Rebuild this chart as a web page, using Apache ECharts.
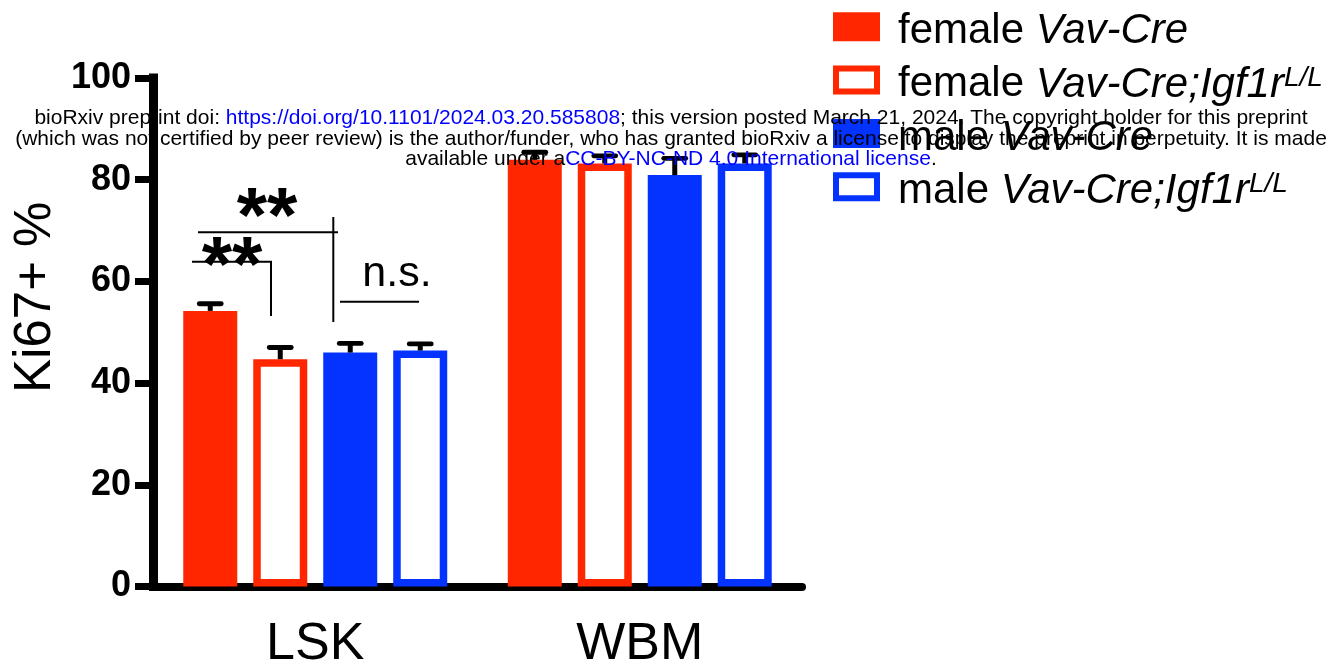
<!DOCTYPE html>
<html><head><meta charset="utf-8">
<script src="https://cdn.jsdelivr.net/npm/echarts@6/dist/echarts.min.js"></script>
<style>html,body{margin:0;padding:0;background:#fff}#c{width:1334px;height:664px}</style>
</head><body><div id="c"></div>
<script>
// ---- data ----
const categories = ['LSK', 'WBM'];
const seriesNames = ['female Vav-Cre', 'female Vav-Cre;Igf1r L/L', 'male Vav-Cre', 'male Vav-Cre;Igf1r L/L'];
const femaleVavCre = [54.2, 83.9];
const femaleVavCreIgf1r = [44.7, 83.2];
const maleVavCre = [46.0, 80.9];
const maleVavCreIgf1r = [46.4, 83.2];
const femaleVavCreErr = [1.4, 1.5];
const femaleVavCreIgf1rErr = [2.3, 1.5];
const maleVavCreErr = [1.8, 3.3];
const maleVavCreIgf1rErr = [1.3, 1.7];
const yTicks = [0, 20, 40, 60, 80, 100];
const yAxisTitle = 'Ki67+ %';

const RED = '#ff2600', BLUE = '#0433ff';
const FONT = '"Liberation Sans", Arial, Helvetica, sans-serif';
const BAR_W = 54, BAR_BORDER = 7.5, BAR_GAP = 16;
const STEP = BAR_W + BAR_GAP;

const means = [femaleVavCre, femaleVavCreIgf1r, maleVavCre, maleVavCreIgf1r];
const errs = [femaleVavCreErr, femaleVavCreIgf1rErr, maleVavCreErr, maleVavCreIgf1rErr];
const colors = [RED, RED, BLUE, BLUE];
const hollow = [false, true, false, true];

const legendText = {};
legendText[seriesNames[0]] = '{sp|}{n|female }{i|Vav-Cre}';
legendText[seriesNames[1]] = '{sp|}{n|female }{i|Vav-Cre;Igf1r}{s|L/L}';
legendText[seriesNames[2]] = '{sp|}{n|male }{i|Vav-Cre}';
legendText[seriesNames[3]] = '{sp|}{n|male }{i|Vav-Cre;Igf1r}{s|L/L}';

const barSeries = seriesNames.map((name, k) => ({
  name: name,
  type: 'bar',
  barWidth: BAR_W,
  barGap: (BAR_GAP / BAR_W * 100).toFixed(1) + '%',
  data: means[k],
  itemStyle: {
    color: hollow[k] ? '#fff' : colors[k],
    borderColor: colors[k],
    borderWidth: BAR_BORDER
  },
  z: 2
}));

const errSeries = seriesNames.map((name, k) => ({
  type: 'custom',
  z: 5,
  data: categories.map((c, i) => [i, means[k][i], errs[k][i]]),
  encode: { x: 0, y: 1 },
  renderItem: function (params, api) {
    const c = api.coord([api.value(0), api.value(1)]);
    const t = api.coord([api.value(0), api.value(1) + api.value(2)]);
    const x = c[0] + (k - 1.5) * STEP;
    return {
      type: 'group',
      children: [
        { type: 'line', shape: { x1: x, y1: c[1], x2: x, y2: t[1] },
          style: { stroke: '#000', lineWidth: 5 } },
        { type: 'line', shape: { x1: x - 11, y1: t[1], x2: x + 11, y2: t[1] },
          style: { stroke: '#000', lineWidth: 4.8, lineCap: 'round' } }
      ]
    };
  }
}));

const LH = 51.6;
const chart = echarts.init(document.getElementById('c'), null, { renderer: 'canvas' });
chart.setOption({
  animation: false,
  backgroundColor: '#fff',
  textStyle: { fontFamily: FONT },
  grid: { left: 153, right: 532, top: 78, bottom: 77.5, containLabel: false, outerBoundsMode: 'none' },
  legend: {
    orient: 'vertical',
    left: 833,
    top: 1,
    padding: 0,
    icon: 'rect',
    itemWidth: 41,
    itemHeight: 23,
    itemGap: 53.3 - LH,
    selectedMode: false,
    data: seriesNames.map((n, k) => ({
      name: n,
      itemStyle: { color: hollow[k] ? '#fff' : colors[k], borderColor: colors[k], borderWidth: 6 }
    })),
    formatter: function (name) { return legendText[name]; },
    textStyle: {
      fontFamily: FONT, fontSize: 42, color: '#000', lineHeight: LH,
      rich: {
        sp: { width: 16, lineHeight: LH },
        n: { fontFamily: FONT, fontSize: 42, color: '#000', lineHeight: 44, verticalAlign: 'bottom' },
        i: { fontFamily: FONT, fontSize: 42, fontStyle: 'italic', color: '#000', lineHeight: 44, verticalAlign: 'bottom' },
        s: { fontFamily: FONT, fontSize: 28, fontStyle: 'italic', color: '#000', lineHeight: 34, verticalAlign: 'middle', padding: [0, 0, 4, 0] }
      }
    }
  },
  xAxis: {
    type: 'category',
    data: categories,
    axisLine: { lineStyle: { color: '#000', width: 8 } },
    axisTick: { alignWithLabel: true, length: 19, lineStyle: { color: '#000', width: 10 } },
    axisLabel: { color: '#000', fontSize: 52, fontFamily: FONT, margin: 32 },
    splitLine: { show: false }
  },
  yAxis: {
    type: 'value',
    min: yTicks[0],
    max: yTicks[yTicks.length - 1],
    interval: yTicks[1] - yTicks[0],
    name: yAxisTitle,
    nameLocation: 'middle',
    nameGap: 92,
    nameTextStyle: { color: '#000', fontSize: 51, fontFamily: FONT, padding: [0, 0, 0, 70] },
    axisLine: { show: true, lineStyle: { color: '#000', width: 9, cap: 'square' } },
    axisTick: { show: true, length: 18, lineStyle: { color: '#000', width: 7 } },
    axisLabel: { color: '#000', fontSize: 36, fontWeight: 'bold', fontFamily: FONT, margin: 22 },
    splitLine: { show: false }
  },
  series: barSeries.concat(errSeries),
  graphic: [
    // significance annotations
    { type: 'line', z: 50, shape: { x1: 198, y1: 232.3, x2: 338, y2: 232.3 }, style: { stroke: '#000', lineWidth: 2 } },
    { type: 'line', z: 50, shape: { x1: 333.3, y1: 217, x2: 333.3, y2: 322 }, style: { stroke: '#000', lineWidth: 2 } },
    { type: 'line', z: 50, shape: { x1: 192, y1: 261.7, x2: 272, y2: 261.7 }, style: { stroke: '#000', lineWidth: 2 } },
    { type: 'line', z: 50, shape: { x1: 271, y1: 261.7, x2: 271, y2: 316 }, style: { stroke: '#000', lineWidth: 2 } },
    { type: 'line', z: 50, shape: { x1: 340, y1: 301.7, x2: 419, y2: 301.7 }, style: { stroke: '#000', lineWidth: 2 } },
    { type: 'text', z: 50, x: 267, y: 220, style: { text: '**', font: 'bold 78px ' + FONT, fill: '#000', textAlign: 'center', textVerticalAlign: 'middle' } },
    { type: 'text', z: 50, x: 232, y: 269, style: { text: '**', font: 'bold 78px ' + FONT, fill: '#000', textAlign: 'center', textVerticalAlign: 'middle' } },
    { type: 'text', z: 50, x: 397, y: 296, style: { text: 'n.s.', font: '43px ' + FONT, fill: '#000', textAlign: 'center', textVerticalAlign: 'bottom' } },
    // bioRxiv watermark
    {
      type: 'text', z: 100, x: 671, y: 108,
      style: {
        text: '{k|bioRxiv preprint doi: }{b|https://doi.org/10.1101/2024.03.20.585808}{k|; this version posted March 21, 2024. The copyright holder for this preprint}\n' +
              '{k|(which was not certified by peer review) is the author/funder, who has granted bioRxiv a license to display the preprint in perpetuity. It is made}\n' +
              '{k|available under a}{b|CC-BY-NC-ND 4.0 International license}{k|.}',
        textAlign: 'center', textVerticalAlign: 'top',
        rich: {
          k: { fontFamily: FONT, fontSize: 21, fill: '#000', lineHeight: 20.5 },
          b: { fontFamily: FONT, fontSize: 21, fill: '#0000ff', lineHeight: 20.5 }
        }
      }
    }
  ]
});
</script>
</body></html>
